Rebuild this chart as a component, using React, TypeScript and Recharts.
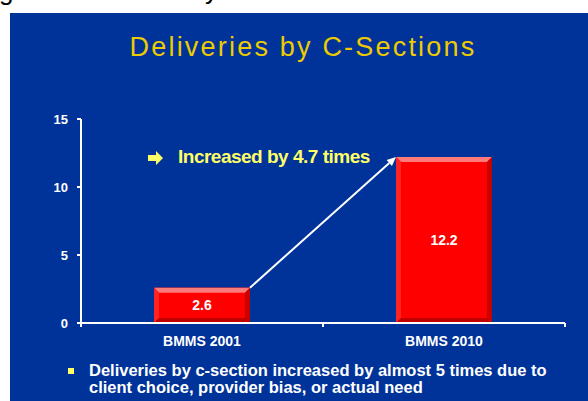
import { Bar, BarChart, LabelList, ReferenceLine, XAxis, YAxis } from "recharts";

const surveys = ["BMMS 2001", "BMMS 2010"];
const csectionRates = [2.6, 12.2];
const yTicks = [0, 5, 10, 15];

const chartData = surveys.map((name, i) => ({ name, value: csectionRates[i] }));

const FONT = '"Liberation Sans", Arial, sans-serif';
const BLUE = "#003399";
const BAR_SIZE = 96;

function BevelBar(props: any) {
  const { x, y, width: w, height: h } = props;
  const b = 5;
  return (
    <g>
      <rect x={x} y={y} width={w} height={h} fill="#ff0000" />
      <polygon points={`${x},${y} ${x + w},${y} ${x + w - b},${y + b} ${x + b},${y + b}`} fill="#ff7a7a" />
      <polygon points={`${x},${y} ${x + b},${y + b} ${x + b},${y + h - b} ${x},${y + h}`} fill="#ff2424" />
      <polygon points={`${x + w},${y} ${x + w},${y + h} ${x + w - b},${y + h - b} ${x + w - b},${y + b}`} fill="#c80000" />
      <polygon points={`${x},${y + h} ${x + w},${y + h} ${x + w - b},${y + h - b} ${x + b},${y + h - b}`} fill="#c00000" />
    </g>
  );
}

function XTick(props: any) {
  const { x, y, payload, index } = props;
  const half = payload?.offset || 121;
  return (
    <g>
      {index === 0 && <line x1={x - half} y1={y} x2={x - half} y2={y + 4} stroke="#fff" strokeWidth={2} />}
      <line x1={x + half} y1={y} x2={x + half} y2={y + 4} stroke="#fff" strokeWidth={2} />
      <text x={x} y={y + 23} textAnchor="middle" fill="#fff" fontSize={14} fontWeight="bold" fontFamily={FONT}>
        {payload.value}
      </text>
    </g>
  );
}

// arrow from top-right corner of first bar to top-left corner of second
function GrowthArrow(props: any) {
  const { x1, y1, x2, y2 } = props;
  const sx = x1 + BAR_SIZE / 2;
  const ex = x2 - BAR_SIZE / 2;
  const dx = ex - sx;
  const dy = y2 - y1;
  const len = Math.sqrt(dx * dx + dy * dy);
  const ux = dx / len;
  const uy = dy / len;
  const head = 9;
  const bx = ex - ux * head;
  const by = y2 - uy * head;
  const px = -uy * 4;
  const py = ux * 4;
  return (
    <g>
      <line x1={sx} y1={y1} x2={bx} y2={by} stroke="#fff" strokeWidth={2} />
      <polygon points={`${ex},${y2} ${bx + px},${by + py} ${bx - px},${by - py}`} fill="#fff" />
    </g>
  );
}

export default function App() {
  return (
    <div style={{ position: "absolute", left: 0, top: 0, width: 588, height: 401, background: "#fff", overflow: "hidden" }}>
      <svg width={588} height={14} style={{ position: "absolute", left: 0, top: 0 }}>
        <text x={-1} y={0} fontSize={26} fontFamily={FONT} fill="#000">g</text>
        <text x={205} y={-1} fontSize={26} fontFamily={FONT} fill="#000">y</text>
      </svg>
      <div style={{ position: "absolute", left: 10, top: 13, width: 578, height: 388, background: BLUE }} />
      <div
        style={{
          position: "absolute",
          left: 0,
          width: 606,
          top: 31,
          textAlign: "center",
          fontFamily: FONT,
          fontSize: 27,
          letterSpacing: 2.2,
          color: "#eecb00",
          lineHeight: "32px",
        }}
      >
        Deliveries by C-Sections
      </div>
      <svg width={20} height={14} style={{ position: "absolute", left: 148, top: 151 }}>
        <polygon points="0,4 8,4 8,0 15,7 8,14 8,10 0,10" fill="#ffff66" />
      </svg>
      <div
        style={{
          position: "absolute",
          left: 178,
          top: 145,
          fontFamily: FONT,
          fontWeight: "bold",
          fontSize: 19,
          letterSpacing: -0.5,
          color: "#ffff66",
          lineHeight: "24px",
          whiteSpace: "nowrap",
        }}
      >
        Increased by 4.7 times
      </div>
      <div style={{ position: "absolute", left: 0, top: 0 }}>
        <BarChart width={588} height={401} data={chartData} margin={{ top: 119, right: 23, bottom: 48, left: 41 }}>
          <YAxis
            width={40}
            domain={[0, 15]}
            ticks={yTicks}
            interval={0}
            axisLine={{ stroke: "#fff", strokeWidth: 2 }}
            tickLine={{ stroke: "#fff", strokeWidth: 2 }}
            tickSize={4}
            tickMargin={9}
            tick={{ fill: "#fff", fontSize: 13, fontWeight: "bold", fontFamily: FONT }}
          />
          <XAxis
            dataKey="name"
            height={30}
            axisLine={{ stroke: "#fff", strokeWidth: 2 }}
            tickLine={false}
            tickSize={0}
            tickMargin={0}
            interval={0}
            tick={<XTick />}
          />
          <Bar dataKey="value" barSize={BAR_SIZE} shape={<BevelBar />} isAnimationActive={false}>
            <LabelList dataKey="value" position="center" fill="#fff" fontSize={14} fontWeight="bold" fontFamily={FONT} />
          </Bar>
          <ReferenceLine
            segment={[
              { x: surveys[0], y: csectionRates[0] },
              { x: surveys[1], y: csectionRates[1] },
            ]}
            shape={<GrowthArrow />}
          />
        </BarChart>
      </div>
      <div style={{ position: "absolute", left: 68, top: 368, width: 6, height: 6, background: "#ffff66" }} />
      <div
        style={{
          position: "absolute",
          left: 89,
          top: 362,
          fontFamily: FONT,
          fontWeight: "bold",
          fontSize: 16.5,
          lineHeight: "17px",
          color: "#fff",
          whiteSpace: "nowrap",
        }}
      >
        Deliveries by c-section increased by almost 5 times due to
        <br />
        client choice, provider bias, or actual need
      </div>
    </div>
  );
}
